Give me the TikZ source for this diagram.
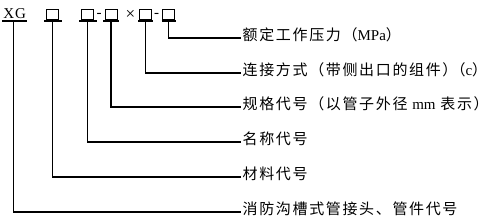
\documentclass[tikz,border=0pt]{standalone}
\usepackage{fontspec}
\setmainfont{Liberation Serif}
\newfontfamily\cjk[LetterSpace=11]{Noto Sans CJK SC}
\newcommand\zh[1]{{\cjk #1}}
\begin{document}
\begin{tikzpicture}[x=1pt,y=-1pt,
  ln/.style={line width=1.1pt},
  ul/.style={line width=1.2pt},
  bx/.style={draw,line width=0.6pt,minimum width=12pt,minimum height=9.5pt,inner sep=0pt},
  lab/.style={anchor=west,inner sep=0pt,font=\fontsize{15}{17}\selectfont},
  top/.style={inner sep=0pt,font=\fontsize{15}{17}\selectfont}]
\useasboundingbox (0,0) rectangle (492,224);
% top row
\node[top,anchor=base] (xg) at (14.7,18.3) {X\kern1ptG};
\node[bx] (b1) at (52.5,14.5) {};
\node[bx] (b2) at (87.5,14.5) {};
\node[top,anchor=base] (d1) at (99,17.5) {-};
\node[bx] (b3) at (111,14.5) {};
\node[top,font=\fontsize{17}{18}\selectfont] (x1) at (130.5,14.5) {×};
\node[bx] (b4) at (145.5,14.5) {};
\node[top,anchor=base] (d2) at (156.5,17.5) {-};
\node[bx] (b5) at (168.5,14.5) {};
% underline centres
\coordinate (u0) at (13.5,21);
\coordinate (u1) at (52.5,21);
\coordinate (u2) at (87.5,21);
\coordinate (u3) at (111,21);
\coordinate (u4) at (145.5,21);
\coordinate (u5) at (168.5,21);
\draw[ul] ([xshift=-11.5pt]u0) -- ([xshift=13pt]u0);
\draw[ul] ([xshift=-8.5pt]u1) -- ([xshift=9pt]u1);
\draw[ul] ([xshift=-8.5pt]u2) -- ([xshift=9pt]u2);
\draw[ul] ([xshift=-8pt]u3) -- ([xshift=8pt]u3);
\draw[ul] ([xshift=-7.5pt]u4) -- ([xshift=7.5pt]u4);
\draw[ul] ([xshift=-7pt]u5) -- ([xshift=7pt]u5);
% line ends
\coordinate (e1) at (241,38);
\coordinate (e2) at (241,73);
\coordinate (e3) at (241,107);
\coordinate (e4) at (241,142);
\coordinate (e5) at (241,177);
\coordinate (e6) at (241,212);
\draw[ln] (u5) |- (e1);
\draw[ln] (u4) |- (e2);
\draw[ln] (u3) |- (e3);
\draw[ln] (u2) |- (e4);
\draw[ln] (u1) |- (e5);
\draw[ln] (u0) |- (e6);
% labels
\node[lab] (t1) at ([shift={(1.5,-3)}]e1) {\zh{额定工作压力（}MPa\zh{）}};
\node[lab] (t2) at ([shift={(1.5,-3)}]e2) {\zh{连接方式（带侧出口的组件）}\kern-7pt\zh{（}c\zh{）}};
\node[lab] (t3) at ([shift={(1.5,-3)}]e3) {\zh{规格代号（以管子外径}\kern1pt\ mm\ \kern1pt\zh{表示）}};
\node[lab] (t4) at ([shift={(1.5,-3)}]e4) {\zh{名称代号}};
\node[lab] (t5) at ([shift={(1.5,-3)}]e5) {\zh{材料代号}};
\node[lab] (t6) at ([shift={(1.5,-3)}]e6) {\zh{消防沟槽式管接头、管件代号}};
\end{tikzpicture}
\end{document}
